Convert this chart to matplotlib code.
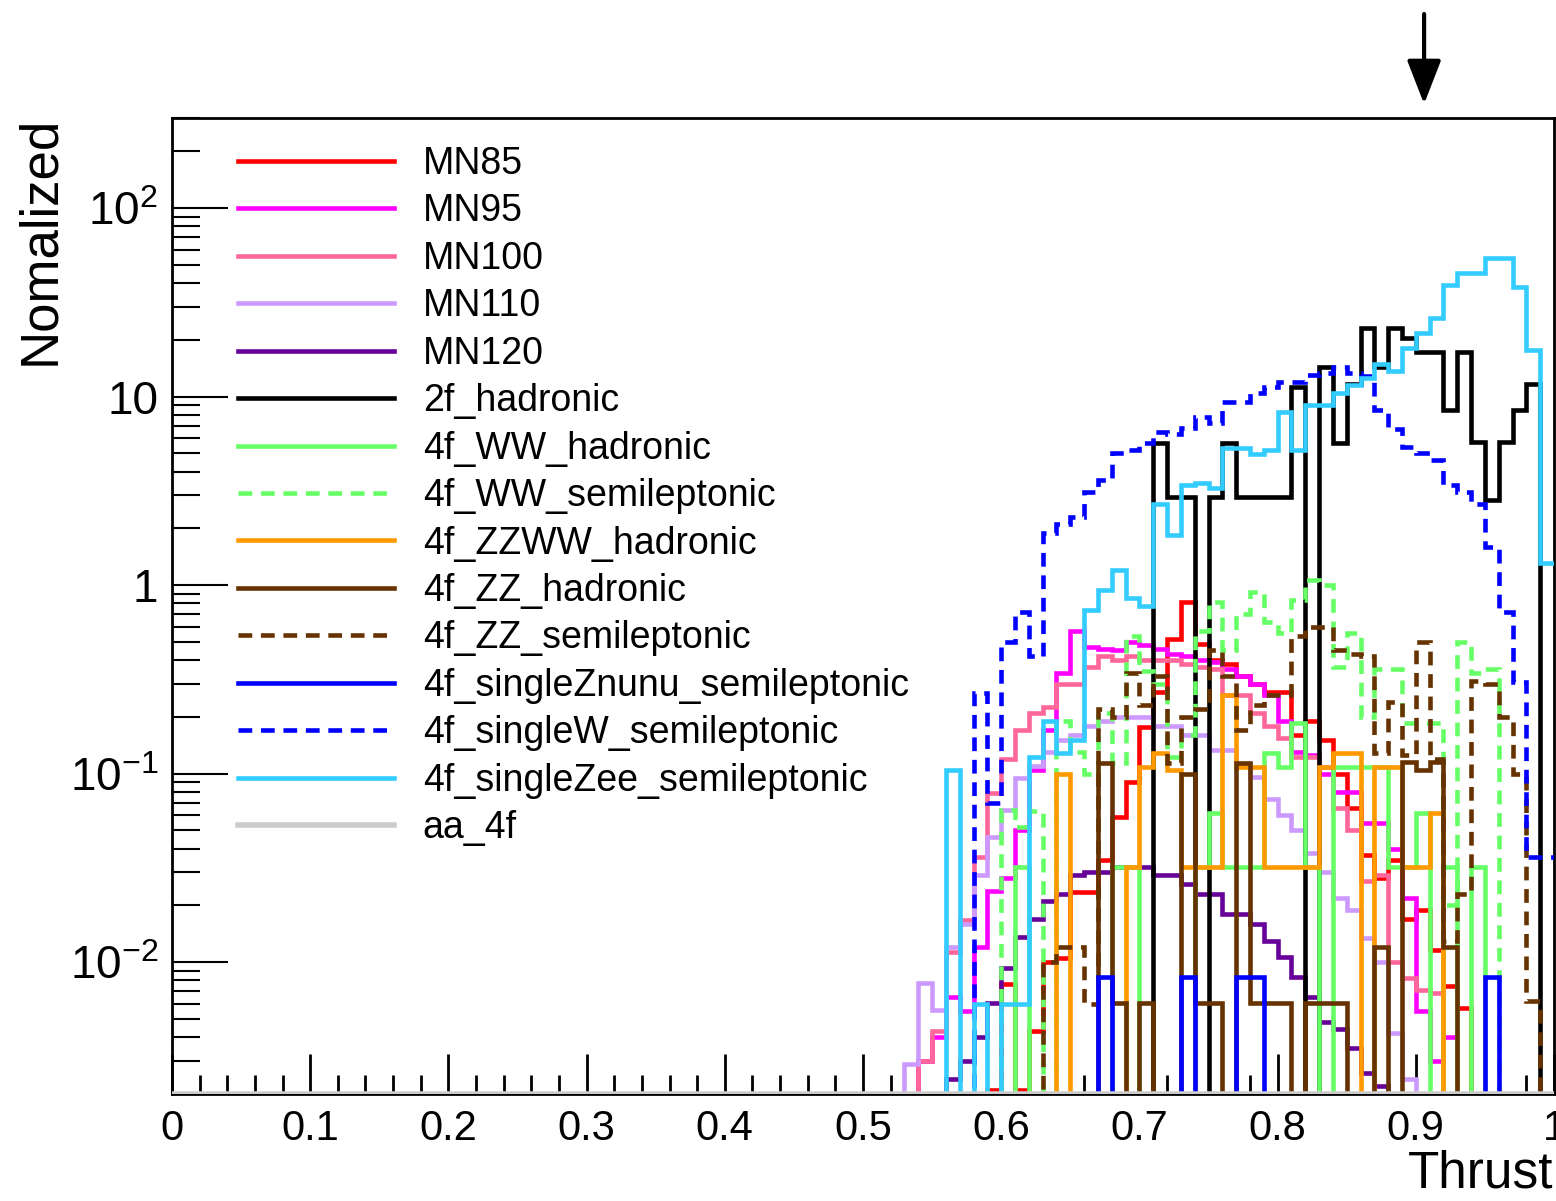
import numpy as np
import matplotlib
matplotlib.use('Agg')
import matplotlib.pyplot as plt
from matplotlib.lines import Line2D
from matplotlib.ticker import FixedLocator, FixedFormatter, NullFormatter
import matplotlib.transforms as mtransforms

plt.rcParams['font.family'] = ['Liberation Sans', 'DejaVu Sans']
plt.rcParams['mathtext.fontset'] = 'custom'
plt.rcParams['mathtext.rm'] = 'Liberation Sans'
plt.rcParams['mathtext.it'] = 'Liberation Sans:italic'
plt.rcParams['mathtext.bf'] = 'Liberation Sans:bold'

# ---------------- data ----------------
N_BINS = 100
X_RANGE = (0.0, 1.0)
FIRST_BIN = 53          # bins below this are empty for all samples
Y_RANGE = (0.002, 300)
cut_value = 0.906

# values for bins 53 .. 99
mn85 = [0, 0, 0, 0, 0, 0, 0.0021, 0.0077, 0.0021, 0.0043, 0.01, 0.0105, 0.0235, 0.0235, 0.035,
        0.059, 0.09, 0.177, 0.27, 0.52, 0.81, 0.49, 0.40, 0.38, 0.33, 0.30, 0.27, 0.27, 0.16,
        0.19, 0.15, 0.1, 0.066, 0.037, 0.028, 0.035, 0.017, 0.019, 0.0116, 0.0075, 0.0057,
        0, 0, 0, 0, 0, 0]
mn95 = [0, 0.003, 0.004, 0.0065, 0.0055, 0.012, 0.024, 0.028, 0.05, 0.105, 0.17, 0.34, 0.57,
        0.47, 0.46, 0.45, 0.5, 0.48, 0.46, 0.43, 0.42, 0.40, 0.39, 0.36, 0.33, 0.30, 0.26, 0.19,
        0.13, 0.125, 0.1, 0.08, 0.08, 0.055, 0.055, 0.04, 0.022, 0.0055, 0.003, 0.004,
        0, 0, 0, 0, 0, 0, 0]
mn100 = [0, 0.003, 0.0043, 0.0113, 0.0167, 0.036, 0.079, 0.12, 0.17, 0.21, 0.225, 0.3, 0.3,
         0.37, 0.42, 0.40, 0.42, 0.40, 0.40, 0.40, 0.38, 0.37, 0.36, 0.26, 0.26, 0.21, 0.18,
         0.155, 0.123, 0.123, 0.108, 0.066, 0.05, 0.027, 0.029, 0.01, 0.0082, 0.0071, 0.0069,
         0, 0, 0, 0, 0, 0, 0, 0]
mn110 = [0.0029, 0.0078, 0.0056, 0.012, 0.016, 0.029, 0.046, 0.064, 0.095, 0.11, 0.13, 0.15,
         0.16, 0.18, 0.19, 0.2, 0.2, 0.2, 0.18, 0.18, 0.16, 0.16, 0.133, 0.133, 0.113, 0.096,
         0.073, 0.06, 0.05, 0.038, 0.03, 0.022, 0.019, 0.0134, 0.01, 0.0042, 0.0024,
         0, 0, 0, 0, 0, 0, 0, 0, 0, 0]
mn120 = [0, 0, 0, 0.0024, 0.003, 0.004, 0.0061, 0.0093, 0.0136, 0.017, 0.021, 0.023, 0.029,
         0.03, 0.03, 0.032, 0.032, 0.032, 0.029, 0.029, 0.026, 0.023, 0.023, 0.018, 0.018,
         0.016, 0.013, 0.0106, 0.0083, 0.0065, 0.0048, 0.0044, 0.0035, 0.0026, 0.0022,
         0, 0, 0, 0, 0, 0, 0, 0, 0, 0, 0, 0]
had_2f = [0, 0, 0, 0, 0, 0, 0, 0, 0, 0, 0, 0, 0, 0, 0, 0, 0, 0, 5.7, 2.94, 2.94, 0, 2.94, 5.7,
          2.94, 2.94, 2.94, 2.94, 11.3, 0, 14.4, 5.7, 11.6, 23.2, 14.4, 23.2, 20.5, 17.3, 17.3,
          8.5, 17.3, 5.75, 2.83, 5.75, 8.5, 11.6, 0]
ww_had = [0, 0, 0, 0, 0, 0, 0, 0, 0.032, 0, 0, 0, 0, 0, 0, 0.032, 0.032, 0, 0, 0, 0, 0.032,
          0.062, 0.032, 0.032, 0.032, 0.128, 0.108, 0.186, 0.032, 0, 0.108, 0.108, 0.108, 0.108,
          0.032, 0.032, 0.062, 0, 0.032, 0, 0.032, 0, 0, 0, 0, 0]
ww_semi = [0, 0, 0, 0, 0, 0, 0, 0.064, 0.052, 0.063, 0, 0.19, 0.13, 0.1, 0.21, 0.114, 0.54,
           0.35, 0.3, 0.123, 0.16, 0.57, 0.81, 0.45, 0.7, 0.92, 0.64, 0.56, 0.83, 1.07, 1.0,
           0.37, 0.56, 0.2, 0.36, 0.36, 0.185, 0.185, 0.185, 0.02, 0.5, 0.34, 0.36, 0, 0, 0, 0]
zzww_had = [0, 0, 0, 0, 0, 0, 0, 0, 0, 0, 0, 0.1, 0, 0, 0, 0, 0.032, 0.108, 0.128, 0.104,
            0.032, 0.032, 0.032, 0.26, 0.108, 0.108, 0.032, 0.032, 0.032, 0.032, 0.108, 0.128,
            0.128, 0, 0.108, 0.108, 0.032, 0.032, 0.062, 0, 0, 0, 0, 0, 0, 0, 0]
zz_had = [0, 0, 0, 0, 0, 0, 0, 0, 0, 0, 0, 0, 0, 0, 0.114, 0.0061, 0, 0.0061, 0, 0, 0.1,
          0.0061, 0.0061, 0, 0.114, 0.0061, 0.0061, 0.0061, 0, 0.0061, 0.0061, 0.0061, 0, 0,
          0.012, 0, 0.115, 0.105, 0.115, 0.012, 0, 0, 0, 0, 0, 0, 0]
zz_semi = [0, 0, 0, 0, 0, 0, 0, 0, 0, 0, 0.01, 0.012, 0.012, 0.006, 0.22, 0.2, 0.34, 0.23,
           0.33, 0.114, 0.2, 0.22, 0.45, 0.33, 0.17, 0.23, 0.26, 0.26, 0.54, 0.6, 0.6, 0.45,
           0.43, 0.42, 0.128, 0.24, 0.125, 0.5, 0.12, 0.013, 0.023, 0.31, 0.3, 0.2, 0.1, 0.0062, 0]
single_znunu = [0, 0, 0, 0, 0, 0, 0, 0, 0, 0, 0, 0, 0, 0, 0.0083, 0, 0, 0, 0, 0, 0.0083, 0, 0,
                0, 0.0083, 0.0083, 0, 0, 0, 0, 0, 0, 0, 0, 0, 0, 0, 0, 0, 0, 0, 0, 0.0083,
                0, 0, 0, 0]
single_w = [0, 0, 0, 0, 0, 0.268, 0.07, 0.5, 0.72, 0.42, 1.9, 2.1, 2.3, 3.1, 3.6, 5.0, 5.2,
            5.7, 6.5, 6.3, 6.8, 7.8, 7.2, 9.3, 9.3, 10.4, 11.2, 11.9, 11.9, 13.0, 13.4, 14.4,
            13.4, 12.8, 8.5, 6.7, 5.4, 5.0, 4.6, 3.4, 3.1, 2.7, 1.6, 0.72, 0.306, 0.036, 0.036]
single_zee = [0, 0, 0, 0.104, 0, 0.006, 0, 0.006, 0.006, 0.123, 0.19, 0.128, 0.15, 0.74, 0.94,
              1.2, 0.85, 0.77, 2.7, 1.85, 3.4, 3.48, 3.28, 5.35, 5.35, 4.97, 5.2, 8.3, 5.2, 9.0,
              9.0, 10.5, 11.5, 12.6, 14.8, 13.6, 18.1, 21.8, 26.2, 39.2, 45.4, 45.4, 54.6, 54.6,
              38.3, 17.7, 1.31]
aa_4f = [0] * 47

labels = ['MN85', 'MN95', 'MN100', 'MN110', 'MN120', '2f_hadronic', '4f_WW_hadronic',
          '4f_WW_semileptonic', '4f_ZZWW_hadronic', '4f_ZZ_hadronic', '4f_ZZ_semileptonic',
          '4f_singleZnunu_semileptonic', '4f_singleW_semileptonic', '4f_singleZee_semileptonic',
          'aa_4f']
series = [mn85, mn95, mn100, mn110, mn120, had_2f, ww_had, ww_semi, zzww_had, zz_had, zz_semi,
          single_znunu, single_w, single_zee, aa_4f]
colors = ['#ff0000', '#ff00ff', '#ff6699', '#cc99ff', '#660099', '#000000', '#66ff66',
          '#66ff66', '#ff9900', '#663300', '#663300', '#0000ff', '#0000ff', '#33ccff', '#cccccc']
dashed = [False, False, False, False, False, False, False, True, False, False, True, False,
          True, False, False]

# ---------------- figure ----------------
W, H = 1556, 1201
fig = plt.figure(figsize=(W / 100, H / 100), dpi=100)
ax = fig.add_axes([172 / W, 1 - 1094 / H, (1554 - 172) / W, (1094 - 118) / H])

edges = np.linspace(X_RANGE[0], X_RANGE[1], N_BINS + 1)
LW = 3.3
DASH = (3.0, 1.9)
handles = []
for i, (lab, vals, col, dsh) in enumerate(zip(labels, series, colors, dashed)):
    full = np.zeros(N_BINS)
    full[FIRST_BIN:FIRST_BIN + len(vals)] = vals
    drawn = np.maximum(full, Y_RANGE[0])  # empty bins sit on the frame bottom, as in ROOT
    lw = 4.0 if lab == 'aa_4f' else LW
    st = ax.stairs(drawn, edges, baseline=None, color=col, lw=lw, zorder=2 + i)
    if dsh:
        st.set_linestyle((0, DASH))
    h = Line2D([], [], color=col, lw=lw)
    if dsh:
        h.set_dashes(DASH)
    handles.append(h)

ax.set_xlim(*X_RANGE)
ax.set_yscale('log')
ax.set_ylim(*Y_RANGE)

# ticks
ax.set_xticks(np.round(np.arange(0, 1.001, 0.1), 1))
ax.set_xticklabels(['0', '0.1', '0.2', '0.3', '0.4', '0.5', '0.6', '0.7', '0.8', '0.9', '1'])
ax.xaxis.set_minor_locator(FixedLocator(np.arange(0, 1.001, 0.02)))
ax.tick_params(axis='x', which='major', direction='in', length=29, width=2, top=False,
               labelsize=30, pad=11)
ax.tick_params(axis='x', which='minor', direction='in', length=14, width=2, top=False)

ymaj = [0.01, 0.1, 1, 10, 100]
ax.yaxis.set_major_locator(FixedLocator(ymaj))
ax.yaxis.set_major_formatter(FixedFormatter([r'$\mathregular{10^{-2}}$', r'$\mathregular{10^{-1}}$',
                                             '1', '10', r'$\mathregular{10^{2}}$']))
yminor = [m * 10.0 ** e for e in range(-3, 3) for m in range(2, 10)]
yminor = [v for v in yminor if Y_RANGE[0] <= v <= Y_RANGE[1]]
ax.yaxis.set_minor_locator(FixedLocator(yminor))
ax.yaxis.set_minor_formatter(NullFormatter())
ax.tick_params(axis='y', which='major', direction='in', length=40, width=1.5, right=False,
               labelsize=33, pad=10)
ax.tick_params(axis='y', which='minor', direction='in', length=20, width=1.5, right=False)

for sp in ax.spines.values():
    sp.set_linewidth(2)

# titles
fig.text(40 / W, 1 - 116 / H, 'Nomalized', rotation=90, ha='center', va='top', fontsize=38)
fig.text(1553 / W, 1 - 1174 / H, 'Thrust', ha='right', va='center', fontsize=37)

# legend
leg = ax.legend(handles, labels, loc='upper left', bbox_to_anchor=(238 / W, 1 - 146 / H),
                bbox_transform=fig.transFigure, frameon=False, fontsize=27,
                handlelength=4.15, handletextpad=0.78, labelspacing=0.305, borderpad=0,
                borderaxespad=0)
leg.set_zorder(30)

# cut arrow
trans = mtransforms.blended_transform_factory(ax.transData, fig.transFigure)
ax.annotate('', xy=(cut_value, 1 - 104 / H), xytext=(cut_value, 1 - 14 / H),
            xycoords=trans, textcoords=trans, annotation_clip=False,
            arrowprops=dict(arrowstyle='-|>,head_length=0.9,head_width=0.35', color='black',
                            lw=3, mutation_scale=30, shrinkA=0, shrinkB=0))

fig.savefig('out.png', dpi=100)
